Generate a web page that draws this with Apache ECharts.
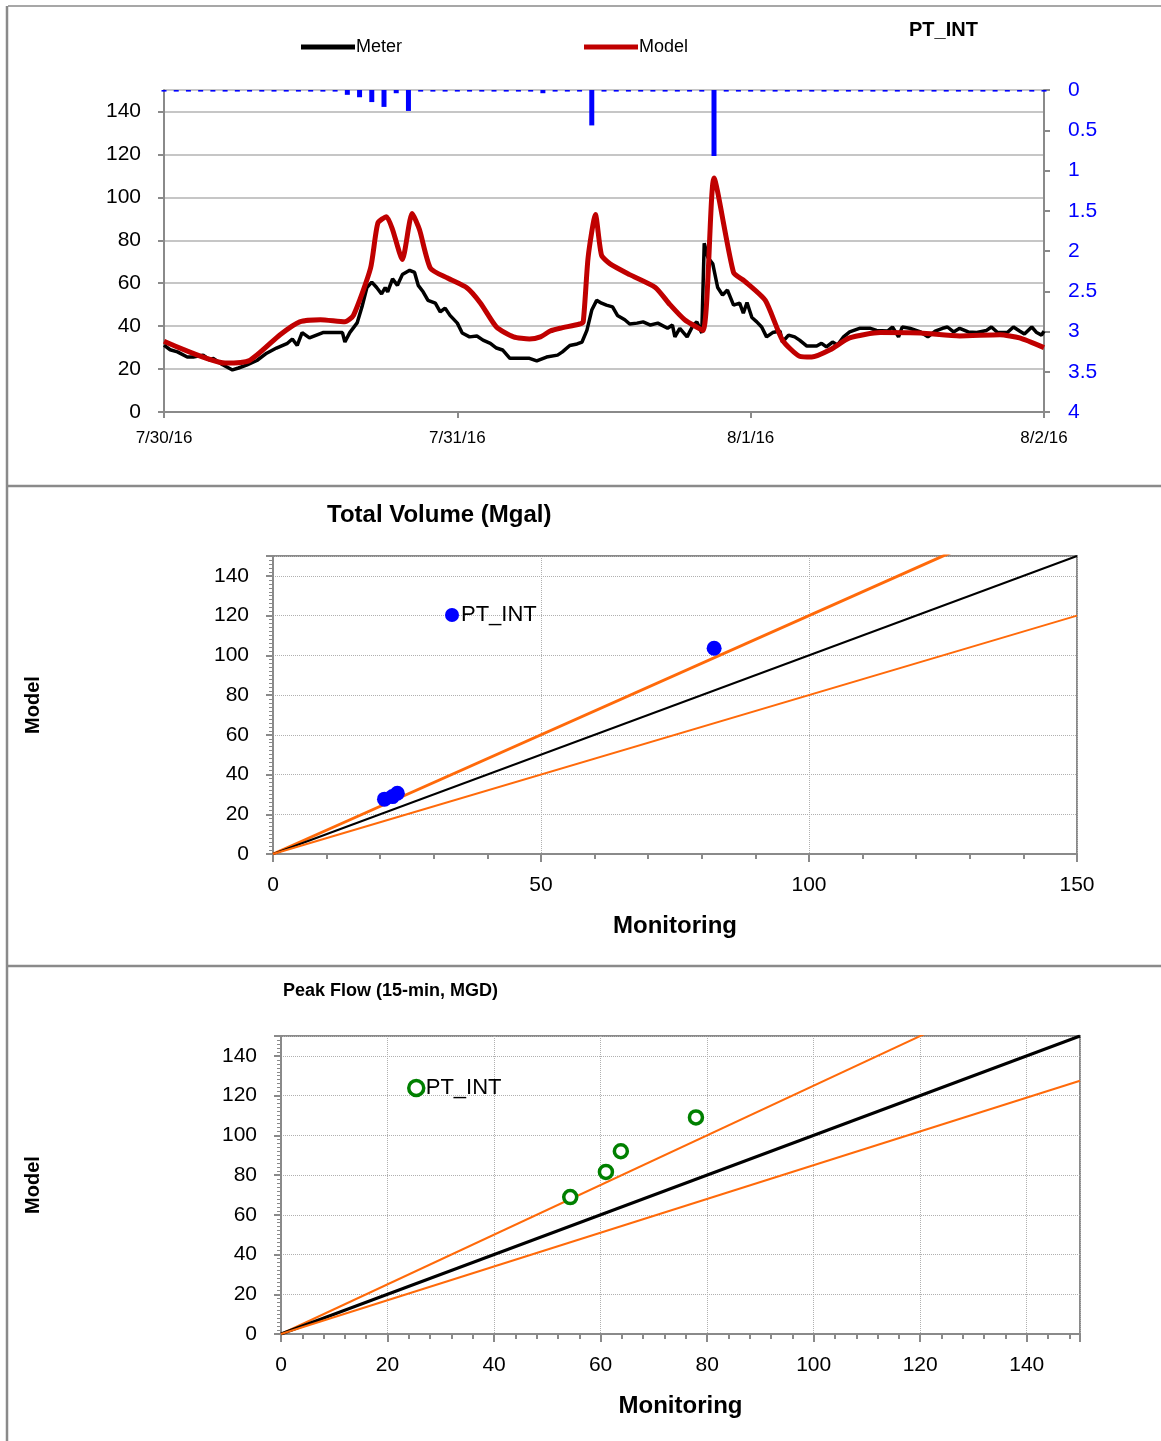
<!DOCTYPE html>
<html>
<head>
<meta charset="utf-8">
<title>PT_INT</title>
<script src="https://cdn.jsdelivr.net/npm/echarts@6/dist/echarts.min.js"></script>
<style>
  html, body { margin: 0; padding: 0; background: #fff; }
  #chart { width: 1161px; height: 1441px; }
</style>
</head>
<body>
<div id="chart"></div>
<script>
// ---- hydrograph (hours from 7/30/16 00:00) ----
var dayLabels = ['7/30/16', '7/31/16', '8/1/16', '8/2/16'];

// hourly rainfall (in), right axis, inverted
var rain = [
  0.02, 0.02, 0.02, 0.02, 0.02, 0.02, 0.02, 0.02, 0.02, 0.02, 0.02, 0.02, 0.02, 0.02, 0.02,
  0.06, 0.09, 0.15, 0.21, 0.04, 0.26,
  0.02, 0.02, 0.02, 0.02, 0.02, 0.02, 0.02, 0.02, 0.02, 0.02,
  0.04,
  0.02, 0.02, 0.02,
  0.44,
  0.02, 0.02, 0.02, 0.02, 0.02, 0.02, 0.02, 0.02, 0.02,
  0.82,
  0.02, 0.02, 0.02, 0.02, 0.02, 0.02, 0.02, 0.02, 0.02, 0.02, 0.02, 0.02, 0.02, 0.02,
  0.02, 0.02, 0.02, 0.02, 0.02, 0.02, 0.02, 0.02, 0.02, 0.02, 0.02, 0.02, 0.02
];

var meterHours = [0.0, 0.5, 1.1, 1.9, 2.4, 3.2, 3.8, 4.0, 4.8, 5.6, 6.1, 6.8, 7.6, 8.4, 9.2, 10.1, 10.5, 10.9, 11.3, 11.9,
  13.0, 13.8, 14.6, 14.8, 15.2, 15.8, 16.2, 16.6, 17.0, 17.4, 17.8, 18.1, 18.3, 18.7, 19.1, 19.5, 20.1, 20.5, 20.8, 21.2,
  21.6, 22.2, 22.6, 23.0, 23.4, 24.0, 24.4, 25.0, 25.6, 26.1, 26.7, 27.2, 27.7, 28.3, 29.1, 29.9, 30.5, 31.3, 32.2, 32.6,
  33.2, 33.8, 34.2, 34.6, 35.0, 35.4, 35.8, 36.2, 36.7, 37.1, 37.7, 38.1, 38.7, 39.2, 39.8, 40.4, 41.2, 41.6, 41.8, 42.2,
  42.8, 43.3, 43.6, 44.0, 44.2, 44.5, 44.9, 45.3, 45.7, 46.1, 46.6, 47.1, 47.4, 47.7, 48.1, 48.5, 48.9, 49.3, 49.8, 50.4,
  50.6, 51.1, 51.6, 52.0, 52.6, 53.4, 53.8, 54.2, 54.7, 55.1, 55.6, 56.1, 56.9, 57.8, 58.3, 59.2, 59.6, 60.1, 60.4, 61.0,
  61.9, 62.5, 63.1, 63.7, 64.1, 64.6, 65.1, 65.8, 66.5, 67.3, 67.7, 68.2, 69.0, 69.5, 70.0, 70.4, 71.0, 71.4, 71.8, 72.0];
var meterFlow = [31.2, 29, 28, 25.6, 25.6, 26.5, 24, 25, 22, 19.6, 20.5, 22, 24, 27.4, 29.8, 32, 34, 31, 37, 34.5,
  37, 37, 37, 32.6, 37, 41.5, 49, 58, 60.5, 58, 55, 58, 56, 62, 59, 64, 66, 65, 59, 56,
  52, 50.7, 46.6, 48.4, 45, 41.4, 36.8, 35, 35.4, 33.5, 32, 29.8, 28.9, 25, 25, 25, 23.8, 25.6, 26.5, 28,
  31, 31.7, 32.6, 38, 47.5, 52, 50.7, 49.8, 49, 45, 43, 41, 41.4, 42, 40.5, 41.4, 39, 40.5, 35, 39,
  35, 40.5, 42, 36.8, 78.6, 72, 69, 58, 54.5, 56.8, 49.8, 50.7, 46, 51, 44, 42, 39.6, 35, 37, 37.7,
  32.6, 35.8, 35, 33.5, 30.7, 30.7, 32, 30.3, 32.6, 31.2, 35, 37.3, 39, 39, 38, 37.7, 39.6, 35, 39.6, 39,
  37.3, 35, 37.7, 39, 39.6, 37.3, 39, 37.3, 37, 38, 39.6, 37, 37, 39.6, 37.7, 36.3, 39.6, 37, 35.8, 37.7];

var modelHours = [0, 5.0, 7.0, 9.5, 11.1, 12.8, 14.8, 15.5, 16.9, 17.5, 18.2, 18.7, 19.5, 20.3, 20.9, 21.8, 23.2, 24.8,
  25.9, 27.2, 28.6, 29.9, 30.8, 31.6, 32.4, 34.0, 34.3, 34.7, 35.3, 35.8, 36.5, 38.1, 40.2, 41.4, 42.6, 44.1, 45.0,
  46.6, 47.5, 49.2, 50.6, 52.0, 53.0, 54.5, 56.1, 58.6, 61.9, 65.1, 68.4, 70.0, 72.0];
var modelFlow = [33, 22.8, 24, 36, 42, 43, 42, 45, 67, 88, 91, 85, 71, 92.5, 85, 67, 62.4, 57.8,
  50.7, 39.6, 35, 34, 35, 37.7, 39, 41, 42, 72, 92, 73, 69, 64, 58, 50, 43, 38, 109,
  65, 61, 52, 33.5, 26, 25.6, 29, 34.5, 37, 36.8, 35.4, 36, 34.5, 30];

// ---- total volume (Mgal) ----
var volMonitoring = [20.8, 22.3, 23.2, 82.3];
var volModel = [27.6, 28.9, 30.6, 103.6];
var volRatios = [1.2, 1.0, 0.8];

// ---- peak flow (15-min, MGD) ----
var peakMonitoring = [54.3, 61.0, 63.8, 77.9];
var peakModel = [68.9, 81.6, 92.0, 109.0];
var peakRatios = [1.25, 1.0, 0.85];

var NARROW = '"Liberation Sans Narrow", "Arial Narrow", "Liberation Sans", sans-serif';
var ORANGE = '#ff6a0a';
var AXIS_GRAY = '#8a8a8a';
var GREEN = '#008000';

function pairs(xs, ys) {
  return xs.map(function (x, i) { return [x, ys[i]]; });
}
function ratioLine(r, xmax) {
  return [[0, 0], [xmax, xmax * r]];
}

var chart = echarts.init(document.getElementById('chart'), null, { renderer: 'canvas' });

var labelStyle = { color: '#000', fontFamily: NARROW, fontSize: 21 };
var nameStyle = { color: '#000', fontFamily: NARROW, fontWeight: 'bold', fontSize: 24 };
var ringStyle = { color: '#fff', borderColor: GREEN, borderWidth: 3.5, opacity: 1 };

var option = {
  animation: false,
  backgroundColor: '#fff',
  textStyle: { fontFamily: NARROW },
  title: [
    { text: 'PT_INT', left: 904, top: 15, textStyle: { fontFamily: NARROW, fontWeight: 'bold', fontSize: 20, color: '#000' } },
    { text: 'Total Volume (Mgal)', left: 322, top: 498, textStyle: { fontFamily: NARROW, fontWeight: 'bold', fontSize: 24, color: '#000' } },
    { text: 'Peak Flow (15-min, MGD)', left: 278, top: 977, textStyle: { fontFamily: NARROW, fontWeight: 'bold', fontSize: 18, color: '#000' } }
  ],
  legend: [
    {
      data: [
        { name: 'Meter', icon: 'rect', itemStyle: { color: '#000' } },
        { name: 'Model', icon: 'rect', itemStyle: { color: '#c00000' } }
      ],
      left: 296, top: 33, itemWidth: 54, itemHeight: 5, itemGap: 182,
      textStyle: { fontFamily: NARROW, fontSize: 18, color: '#000', padding: [0, 0, 0, -4] }
    },
    {
      data: [{ name: 'volPT', icon: 'circle', itemStyle: { color: '#0000ff', opacity: 1 } }],
      formatter: function () { return 'PT_INT'; },
      left: 440, top: 599, itemWidth: 14, itemHeight: 14, itemGap: 4,
      textStyle: { fontFamily: NARROW, fontSize: 22, color: '#000', padding: [0, 0, 0, -3] }
    },
    {
      data: [{ name: 'peakPT', icon: 'circle', itemStyle: ringStyle }],
      formatter: function () { return 'PT_INT'; },
      left: 402, top: 1072, itemWidth: 15, itemHeight: 15, itemGap: 4,
      textStyle: { fontFamily: NARROW, fontSize: 22, color: '#000', padding: [0, 0, 0, -3] }
    }
  ],
  grid: [
    { left: 164, top: 90, width: 880, height: 322 },
    { left: 273, top: 556, width: 804, height: 298, show: true, borderColor: AXIS_GRAY, borderWidth: 2 },
    { left: 281, top: 1036, width: 799, height: 298, show: true, borderColor: AXIS_GRAY, borderWidth: 2 }
  ],
  xAxis: [
    {
      gridIndex: 0, type: 'value', min: 0, max: 72, interval: 24,
      axisLine: { lineStyle: { color: AXIS_GRAY, width: 2 } },
      axisTick: { length: 6, lineStyle: { color: AXIS_GRAY, width: 2 } },
      axisLabel: { color: '#000', fontFamily: NARROW, fontSize: 17, margin: 18,
        formatter: function (v) { return dayLabels[v / 24]; } },
      splitLine: { show: false }
    },
    {
      gridIndex: 1, type: 'value', min: 0, max: 150, interval: 50,
      name: 'Monitoring', nameLocation: 'middle', nameGap: 60, nameTextStyle: nameStyle,
      axisLine: { lineStyle: { color: AXIS_GRAY, width: 2 } },
      axisTick: { length: 8, lineStyle: { color: AXIS_GRAY, width: 2 } },
      minorTick: { show: true, splitNumber: 5, length: 5, lineStyle: { color: AXIS_GRAY, width: 2 } },
      axisLabel: Object.assign({ margin: 21 }, labelStyle),
      splitLine: { show: true, lineStyle: { color: '#b0b0b0', type: 'dotted', width: 1 } }
    },
    {
      gridIndex: 2, type: 'value', min: 0, max: 150, interval: 20,
      name: 'Monitoring', nameLocation: 'middle', nameGap: 60, nameTextStyle: nameStyle,
      axisLine: { lineStyle: { color: AXIS_GRAY, width: 2 } },
      axisTick: { length: 8, lineStyle: { color: AXIS_GRAY, width: 2 } },
      minorTick: { show: true, splitNumber: 5, length: 5, lineStyle: { color: AXIS_GRAY, width: 2 } },
      axisLabel: Object.assign({ margin: 21, showMaxLabel: false }, labelStyle),
      splitLine: { show: true, lineStyle: { color: '#b0b0b0', type: 'dotted', width: 1 } }
    }
  ],
  yAxis: [
    {
      gridIndex: 0, type: 'value', min: 0, max: 150, interval: 20,
      axisLine: { show: true, lineStyle: { color: AXIS_GRAY, width: 2 } },
      axisTick: { show: true, length: 6, lineStyle: { color: AXIS_GRAY, width: 2 } },
      axisLabel: Object.assign({ margin: 23, showMaxLabel: false }, labelStyle),
      splitLine: { show: true, lineStyle: { color: '#c6c6c6', width: 2 } }
    },
    {
      gridIndex: 0, type: 'value', min: 0, max: 4, interval: 0.5, inverse: true, position: 'right',
      axisLine: { show: true, lineStyle: { color: AXIS_GRAY, width: 2 } },
      axisTick: { show: true, length: 6, lineStyle: { color: AXIS_GRAY, width: 2 } },
      axisLabel: { color: '#0000ff', fontFamily: NARROW, fontSize: 21, margin: 24 },
      splitLine: { show: false }
    },
    {
      gridIndex: 1, type: 'value', min: 0, max: 150, interval: 20,
      name: 'Model', nameLocation: 'middle', nameRotate: 90, nameGap: 230,
      nameTextStyle: Object.assign({}, nameStyle, { fontSize: 20 }),
      axisLine: { show: true, lineStyle: { color: AXIS_GRAY, width: 2 } },
      axisTick: { show: true, length: 7, lineStyle: { color: AXIS_GRAY, width: 2 } },
      minorTick: { show: true, splitNumber: 10, length: 4, lineStyle: { color: AXIS_GRAY, width: 1 } },
      axisLabel: Object.assign({ margin: 24, showMaxLabel: false }, labelStyle),
      splitLine: { show: true, lineStyle: { color: '#b0b0b0', type: 'dotted', width: 1 } }
    },
    {
      gridIndex: 2, type: 'value', min: 0, max: 150, interval: 20,
      name: 'Model', nameLocation: 'middle', nameRotate: 90, nameGap: 238,
      nameTextStyle: Object.assign({}, nameStyle, { fontSize: 20 }),
      axisLine: { show: true, lineStyle: { color: AXIS_GRAY, width: 2 } },
      axisTick: { show: true, length: 7, lineStyle: { color: AXIS_GRAY, width: 2 } },
      minorTick: { show: true, splitNumber: 10, length: 4, lineStyle: { color: AXIS_GRAY, width: 1 } },
      axisLabel: Object.assign({ margin: 24, showMaxLabel: false }, labelStyle),
      splitLine: { show: true, lineStyle: { color: '#b0b0b0', type: 'dotted', width: 1 } }
    }
  ],
  series: [
    {
      name: 'Rain', type: 'bar', xAxisIndex: 0, yAxisIndex: 1, barWidth: 5,
      itemStyle: { color: '#0000ff' },
      data: rain.map(function (v, i) { return [i, v]; })
    },
    {
      name: 'Meter', type: 'line', xAxisIndex: 0, yAxisIndex: 0, showSymbol: false, z: 3,
      lineStyle: { color: '#000', width: 3.5 }, itemStyle: { color: '#000' },
      data: pairs(meterHours, meterFlow)
    },
    {
      name: 'Model', type: 'line', xAxisIndex: 0, yAxisIndex: 0, showSymbol: false, smooth: 0.2, z: 4,
      lineStyle: { color: '#c00000', width: 5 }, itemStyle: { color: '#c00000' },
      data: pairs(modelHours, modelFlow)
    },
    // total volume
    {
      name: 'volHigh', type: 'line', xAxisIndex: 1, yAxisIndex: 2, showSymbol: false,
      lineStyle: { color: ORANGE, width: 3 }, data: ratioLine(volRatios[0], 150)
    },
    {
      name: 'volEqual', type: 'line', xAxisIndex: 1, yAxisIndex: 2, showSymbol: false,
      lineStyle: { color: '#000', width: 2 }, data: ratioLine(volRatios[1], 150)
    },
    {
      name: 'volLow', type: 'line', xAxisIndex: 1, yAxisIndex: 2, showSymbol: false,
      lineStyle: { color: ORANGE, width: 2 }, data: ratioLine(volRatios[2], 150)
    },
    {
      name: 'volPT', type: 'scatter', xAxisIndex: 1, yAxisIndex: 2, symbol: 'circle', symbolSize: 15, z: 5,
      itemStyle: { color: '#0000ff', opacity: 1 }, data: pairs(volMonitoring, volModel)
    },
    // peak flow
    {
      name: 'peakHigh', type: 'line', xAxisIndex: 2, yAxisIndex: 3, showSymbol: false,
      lineStyle: { color: ORANGE, width: 2 }, data: ratioLine(peakRatios[0], 150)
    },
    {
      name: 'peakEqual', type: 'line', xAxisIndex: 2, yAxisIndex: 3, showSymbol: false,
      lineStyle: { color: '#000', width: 3 }, data: ratioLine(peakRatios[1], 150)
    },
    {
      name: 'peakLow', type: 'line', xAxisIndex: 2, yAxisIndex: 3, showSymbol: false,
      lineStyle: { color: ORANGE, width: 2 }, data: ratioLine(peakRatios[2], 150)
    },
    {
      name: 'peakPT', type: 'scatter', xAxisIndex: 2, yAxisIndex: 3, symbol: 'circle', symbolSize: 13, z: 5,
      itemStyle: ringStyle, data: pairs(peakMonitoring, peakModel)
    }
  ],
  // panel frame
  graphic: [
    { type: 'line', shape: { x1: 8, y1: 6, x2: 1161, y2: 6 }, style: { stroke: AXIS_GRAY, lineWidth: 1.5 } },
    { type: 'line', shape: { x1: 7, y1: 6, x2: 7, y2: 1441 }, style: { stroke: AXIS_GRAY, lineWidth: 2.5 } },
    { type: 'line', shape: { x1: 8, y1: 486, x2: 1161, y2: 486 }, style: { stroke: AXIS_GRAY, lineWidth: 2.5 } },
    { type: 'line', shape: { x1: 8, y1: 966, x2: 1161, y2: 966 }, style: { stroke: AXIS_GRAY, lineWidth: 2.5 } }
  ]
};

chart.setOption(option);
</script>
</body>
</html>
